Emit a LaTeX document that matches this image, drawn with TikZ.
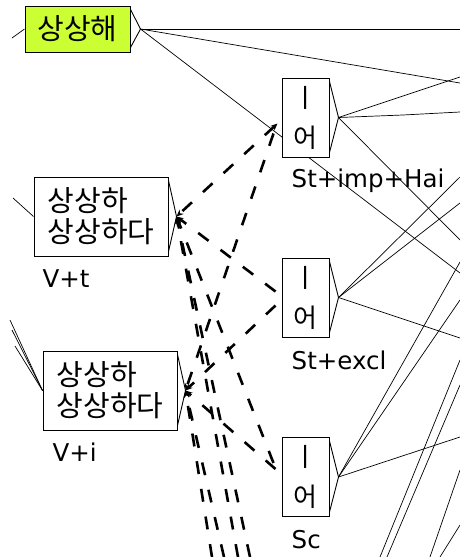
\documentclass[tikz,border=0pt]{standalone}
\usepackage{fontspec}
\setsansfont{DejaVu Sans}
\newfontfamily\kofont{Noto Sans CJK KR}
\usetikzlibrary{positioning, arrows.meta, calc, backgrounds}
\definecolor{kLime}{HTML}{CCFF33}

\begin{document}
\begin{tikzpicture}[
  x=1pt, y=-1pt,
  every node/.style={font=\sffamily},
  word/.style={draw, line width=1pt, fill=white, inner sep=0pt, align=left,
               font=\kofont\fontsize{29}{31}\selectfont},
  suffix/.style={word, align=center, minimum width=47pt, minimum height=79pt,
                 font=\kofont\fontsize{26}{40}\selectfont},
  tag/.style={anchor=base west, inner sep=0pt, font=\sffamily\fontsize{24.5}{24.5}\selectfont},
  trans/.style={line width=0.7pt},
  outp/.style={line width=0.9pt},
  back/.style={line width=2.6pt, dash pattern=on 13pt off 15pt,
               -{Stealth[length=7pt, width=6pt]}},
]
  \useasboundingbox (0,0) rectangle (460,557);

  % Boxes
  \node[word, fill=kLime, minimum width=105pt, minimum height=46pt] (hae) at (77.5,29) {상상해};
  \node[word, minimum width=134pt, minimum height=79pt] (vt) at (101,216.5) {상상하\\상상하다};
  \node[word, minimum width=134pt, minimum height=79pt] (vi) at (110,390.5) {상상하\\상상하다};
  \node[suffix] (eo1) at (305.5,117.5) {ㅣ\\어};
  \node[suffix] (eo2) at (305.5,297.5) {ㅣ\\어};
  \node[suffix] (eo3) at (305.5,477) {ㅣ\\어};

  % Labels
  \node[tag] (vtl)  at ($(vt.south west)+(9,31)$)   {V+t};
  \node[tag] (vil)  at ($(vi.south west)+(10,31)$)  {V+i};
  \node[tag] (eo1l) at ($(eo1.south west)+(10,30)$) {St+imp+Hai};
  \node[tag] (eo2l) at ($(eo2.south west)+(10,32)$) {St+excl};
  \node[tag] (eo3l) at ($(eo3.south west)+(10,31)$) {Sc};

  % Output brackets
  \foreach \b/\d in {hae/10, vt/8, vi/8, eo1/9, eo2/9, eo3/9} {
    \coordinate (\b-tip) at ($(\b.east)+(\d,0)$);
    \draw[outp] ($(\b.north east)+(0,4)$) -- (\b-tip) -- ($(\b.south east)+(0,-5)$);
  }

  \begin{scope}[on background layer]
    % Incoming transitions
    \coordinate (in0) at (12,38);
    \draw[trans] (in0) -- (hae.west);
    \coordinate (in1) at (13,198);
    \draw[trans] (in1) -- (vt.west);
    \foreach \x/\y [count=\i] in {10/320, 12/330, 15/346} {
      \coordinate (inv\i) at (\x,\y);
      \draw[trans] (inv\i) -- (vi.west);
    }

    % Outgoing transitions
    \foreach \y [count=\i] in {29, 83, 273} {
      \coordinate (h\i) at (460,\y);
      \draw[trans] (hae-tip) -- (h\i);
    }
    \coordinate (a1) at (460,77);
    \coordinate (a2k) at (403,115);
    \coordinate (a2) at (460,112);
    \coordinate (a3) at (460,240);
    \draw[trans] (eo1-tip) -- (a1);
    \draw[trans] (eo1-tip) -- (a2k) -- (a2);
    \draw[trans] (eo1-tip) -- (a3);
    \foreach \y [count=\i] in {177, 203, 338} {
      \coordinate (b\i) at (460,\y);
      \draw[trans] (eo2-tip) -- (b\i);
    }
    \foreach \y [count=\i] in {262, 300, 437} {
      \coordinate (c\i) at (460,\y);
      \draw[trans] (eo3-tip) -- (c\i);
    }
    \foreach \x/\y [count=\i] in {380/360, 387/385, 430/470, 440/525} {
      \coordinate (f\i) at (\x,557);
      \coordinate (g\i) at (460,\y);
      \draw[trans] (f\i) -- (g\i);
    }

    % Dashed back transitions
    \draw[back, {Stealth[length=7pt, width=6pt]}-{Stealth[length=7pt, width=6pt]}]
      ($(eo1.west)+(-4,6)$) -- (vt-tip);
    \draw[back] ($(eo1.west)+(-8,16)$) -- (vi-tip);
    \draw[back] ($(eo2.west)+(-6,-6)$) -- (vt-tip);
    \draw[back] ($(eo2.west)+(-6,8)$) -- (vi-tip);
    \draw[back] ($(eo3.west)+(-6,-8)$) -- (vi-tip);
    \draw[back] ($(eo3.west)+(-8,-14)$) -- (vt-tip);
    \foreach \x [count=\i] in {238, 250} {
      \coordinate (dt\i) at (\x,557);
      \draw[back] (dt\i) -- (vt-tip);
    }
    \foreach \x [count=\i] in {212, 224} {
      \coordinate (di\i) at (\x,557);
      \draw[back] (di\i) -- (vi-tip);
    }
  \end{scope}
\end{tikzpicture}
\end{document}
